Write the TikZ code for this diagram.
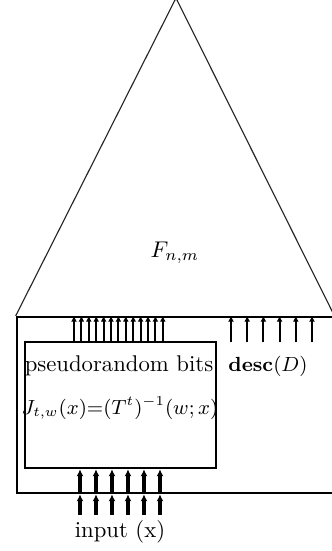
\documentclass[tikz,border=0pt]{standalone}
\usepackage{tikz}
\usetikzlibrary{positioning,arrows.meta,calc,fit}
\usepackage{amsmath}

\begin{document}
\begin{tikzpicture}[x=0.44pt, y=-0.44pt,
      box/.style={draw, rectangle, line width=1.1pt, inner sep=0pt},
      tri/.style={draw, line width=0.5pt, black!85},
      lbl/.style={font=\normalsize, inner sep=1pt},
      ar/.style={-{Latex[length=2.6pt,width=2.6pt]}, line width=0.85pt},
      thick ar/.style={-{Latex[length=3pt,width=3pt]}, line width=1.5pt},
    ]
      \useasboundingbox (0,0) rectangle (331,551);
      % outer and inner boxes
      \coordinate (onw) at (17,317);
      \coordinate (ose) at (345,493);
      \node[box, fit=(onw)(ose)] (outer) {};
      \coordinate (inw) at (25,342);
      \coordinate (ise) at (216,468);
      \node[box, fit=(inw)(ise)] (inner) {};
      % the triangle
      \coordinate (apex) at (176,-2);
      \coordinate (rfoot) at (335,317);
      \draw[tri] (outer.north west) -- (apex) -- (rfoot);
      \node[lbl] (F) at (175,253) {$F_{n,m}$};
      % labels
      \node[lbl] (prb) at (119,366) {pseudorandom bits};
      \node[lbl, font=\small] (J) at (120,408) {$J_{t,w}(x){=}(T^t)^{-1}(w;x)$};
      \node[lbl, font=\small] (desc) at (268,366) {$\mathbf{desc}(D)$};
      \node[lbl] (input) at (120,532) {input (x)};
      % bits going up
      \foreach \i in {0,...,12} {
        \coordinate (t\i) at (74+7.4*\i,342);
        \draw[ar] (t\i) -- (t\i |- outer.north);
      }
      \foreach \i in {0,...,5} {
        \coordinate (d\i) at (231+16.2*\i,342);
        \draw[ar] (d\i) -- (d\i |- outer.north);
      }
      \foreach \i in {0,...,5} {
        \coordinate (x\i) at (80+16*\i,515);
        \draw[thick ar] (x\i) -- (x\i |- outer.south);
        \draw[thick ar] (x\i |- outer.south) -- (x\i |- inner.south);
      }
\end{tikzpicture}
\end{document}
